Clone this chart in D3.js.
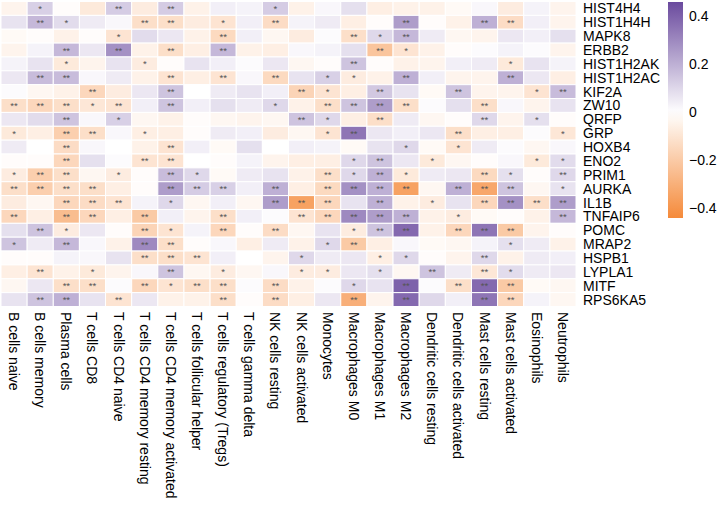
<!DOCTYPE html>
<html><head><meta charset="utf-8">
<script src="https://cdn.jsdelivr.net/npm/d3@7"></script>
<style>body{margin:0;background:#fff}svg{display:block}text{font-family:"Liberation Sans",Arial,sans-serif}</style>
</head><body><svg id="c" width="719" height="506"></svg>
<script>
const genes = ["HIST4H4","HIST1H4H","MAPK8","ERBB2","HIST1H2AK","HIST1H2AC","KIF2A","ZW10","QRFP","GRP","HOXB4","ENO2","PRIM1","AURKA","IL1B","TNFAIP6","POMC","MRAP2","HSPB1","LYPLA1","MITF","RPS6KA5"];
const cells = ["B cells naive","B cells memory","Plasma cells","T cells CD8","T cells CD4 naive","T cells CD4 memory resting","T cells CD4 memory activated","T cells follicular helper","T cells regulatory (Tregs)","T cells gamma delta","NK cells resting","NK cells activated","Monocytes","Macrophages M0","Macrophages M1","Macrophages M2","Dendritic cells resting","Dendritic cells activated","Mast cells resting","Mast cells activated","Eosinophils","Neutrophils"];
const values = [
[-0.04,0.12,-0.01,-0.08,0.13,-0.07,0.13,-0.05,0.04,0.03,0.13,-0.05,0.02,0.08,-0.06,-0.05,-0.05,-0.02,0.02,-0.07,0.03,-0.04],
[0.07,0.18,0.09,0.05,0.02,-0.12,-0.12,-0.07,-0.1,0.04,-0.13,0.03,0.05,-0.06,-0.01,0.25,-0.01,-0.05,0.2,-0.13,0.04,-0.04],
[-0.02,-0.01,-0.05,-0.01,-0.1,0.09,0.06,-0.05,-0.14,0.04,-0.03,-0.07,0.01,-0.12,0.1,0.18,0.05,-0.03,-0.04,0.06,0.04,0.08],
[-0.04,0.03,0.18,0.06,0.28,-0.05,-0.12,-0.06,0.18,-0.05,-0.06,0.02,0.03,0.08,-0.22,-0.1,-0.05,-0.01,0.01,0.03,0.01,-0.04],
[0.03,0.07,-0.08,-0.04,0.07,-0.07,-0.01,0.07,0.04,0.01,0.06,-0.03,-0.01,0.15,-0.01,-0.05,-0.04,0.04,0.05,-0.08,0.07,0.03],
[0.06,0.17,0.17,0.02,0.05,-0.05,-0.1,-0.06,-0.1,0.02,-0.14,0.07,0.12,-0.07,-0.05,0.2,0.04,-0.04,-0.04,0.2,0.06,-0.06],
[0.01,-0.03,-0.05,-0.15,-0.07,0.06,0.15,0.0,0.05,0.07,0.04,-0.16,-0.1,-0.06,0.14,0.07,-0.02,0.15,-0.04,-0.04,-0.1,0.17],
[-0.12,-0.15,-0.12,-0.09,-0.1,0.04,0.15,0.04,0.08,0.05,0.1,-0.05,-0.12,0.15,0.25,-0.12,0.01,0.08,-0.12,0.02,-0.04,0.07],
[0.06,0.09,0.15,0.02,0.12,-0.03,-0.05,-0.01,-0.03,-0.04,-0.03,0.15,0.1,-0.06,-0.12,0.05,-0.03,-0.01,0.1,-0.04,0.08,-0.01],
[-0.08,-0.06,-0.18,-0.12,0.02,-0.06,-0.06,-0.01,0.05,0.04,-0.07,-0.03,-0.1,0.35,0.06,0.04,0.06,-0.12,-0.06,-0.06,0.01,-0.09],
[0.05,0.0,-0.13,0.02,0.0,-0.05,-0.1,0.04,-0.02,0.08,0.0,0.04,0.03,-0.02,0.07,0.1,-0.02,-0.1,0.05,0.01,-0.03,0.02],
[-0.01,-0.01,-0.15,0.08,0.01,-0.1,-0.1,0.0,-0.01,0.03,-0.04,-0.06,-0.06,0.1,0.15,0.06,-0.08,-0.03,-0.01,0.02,-0.08,0.09],
[-0.07,-0.18,-0.12,-0.03,-0.07,-0.01,0.17,0.1,-0.02,0.05,0.07,-0.05,-0.12,0.1,0.2,-0.08,0.05,0.06,-0.14,0.08,-0.01,0.1],
[-0.12,-0.18,-0.12,-0.12,-0.06,-0.01,0.25,0.13,0.12,0.04,0.2,-0.06,-0.14,0.28,0.2,-0.35,-0.03,0.2,-0.33,0.15,-0.03,0.07],
[-0.07,-0.03,-0.15,-0.13,-0.1,0.03,0.1,-0.03,0.04,-0.03,0.25,-0.35,-0.15,0.07,0.2,-0.05,-0.07,0.07,-0.15,0.28,-0.12,0.25],
[-0.15,-0.06,-0.25,-0.15,-0.06,-0.2,0.04,-0.04,-0.12,0.04,0.01,-0.1,-0.15,0.3,0.25,0.2,-0.05,-0.07,-0.02,-0.01,-0.05,0.18],
[0.08,0.15,-0.07,0.06,-0.01,-0.16,-0.1,0.03,-0.15,-0.01,-0.13,-0.03,0.07,-0.07,0.15,0.38,-0.05,-0.15,0.35,-0.2,-0.04,-0.01],
[0.15,0.05,0.18,0.02,-0.05,0.3,-0.12,-0.01,0.02,-0.06,0.05,-0.05,0.1,-0.2,-0.06,0.02,-0.02,-0.03,0.03,0.08,0.05,-0.05],
[-0.01,-0.01,0.03,0.02,0.07,-0.12,-0.12,-0.1,0.04,0.0,-0.04,0.1,0.05,0.06,-0.06,0.1,-0.01,-0.04,0.1,-0.05,0.05,0.04],
[-0.06,-0.1,-0.05,-0.08,-0.04,0.02,0.15,-0.03,-0.07,-0.03,0.02,-0.07,-0.07,0.06,0.08,-0.03,0.15,0.05,-0.09,0.09,0.05,0.06],
[-0.03,0.06,-0.12,-0.12,0.01,-0.15,-0.1,-0.12,-0.12,0.01,-0.13,-0.05,0.01,0.1,0.07,0.4,0.01,-0.12,0.38,-0.2,-0.02,-0.03],
[0.07,0.15,0.2,0.07,-0.1,0.06,-0.05,-0.05,-0.12,-0.01,-0.13,-0.06,0.06,-0.3,-0.04,0.38,0.1,0.04,0.35,-0.15,0.03,-0.03]
];
// significance level per cell: 0 none, 1 "*", 2 "**"
const signif = [
[0,1,0,0,2,0,2,0,0,0,1,0,0,0,0,0,0,0,0,0,0,0],
[0,2,1,0,0,2,2,0,1,0,2,0,0,0,0,2,0,0,2,2,0,0],
[0,0,0,0,1,0,0,0,2,0,0,0,0,2,1,2,0,0,0,0,0,0],
[0,0,2,0,2,0,2,0,2,0,0,0,0,0,2,1,0,0,0,0,0,0],
[0,0,1,0,0,1,0,0,0,0,0,0,0,2,0,0,0,0,0,1,0,0],
[0,2,2,0,0,0,2,0,2,0,2,0,1,1,0,2,0,0,0,2,0,0],
[0,0,0,2,0,0,2,0,0,0,0,2,1,0,2,0,0,2,0,0,1,2],
[2,2,2,1,2,0,2,0,0,0,1,0,2,2,2,2,0,0,2,0,0,0],
[0,0,2,0,1,0,0,0,0,0,0,2,1,0,2,0,0,0,2,0,1,0],
[1,0,2,2,0,1,0,0,0,0,0,0,1,2,0,0,0,2,0,0,0,1],
[0,0,2,0,0,0,2,0,0,0,0,0,0,0,0,1,0,1,0,0,0,0],
[0,0,2,0,0,2,2,0,0,0,0,0,0,1,2,0,1,0,0,0,1,1],
[1,2,2,0,1,0,2,1,0,0,0,0,2,1,2,1,0,0,2,1,0,2],
[2,2,2,2,0,0,2,2,2,0,2,0,2,2,2,2,0,2,2,2,0,1],
[0,0,2,2,2,0,1,0,0,0,2,2,2,0,2,0,1,0,2,2,2,2],
[2,0,2,2,0,2,0,0,2,0,0,2,2,2,2,2,0,1,0,0,0,2],
[0,2,1,0,0,2,1,0,2,0,2,0,0,1,2,2,0,2,2,2,0,0],
[1,0,2,0,0,2,2,0,0,0,0,0,1,2,0,0,0,0,0,1,0,0],
[0,0,0,0,0,2,2,2,0,0,0,1,0,0,1,1,0,0,2,0,0,0],
[0,2,0,1,0,0,2,0,1,0,0,1,1,0,1,0,2,0,2,1,0,0],
[0,0,2,2,0,2,1,2,2,0,2,0,0,1,0,2,0,2,2,2,0,0],
[0,2,2,0,2,0,0,0,2,0,2,0,0,2,0,2,0,0,2,2,0,0]
];
const legendTicks = [0.4, 0.2, 0, -0.2, -0.4];
const colorDomain = [-0.44, 0, 0.46];

const svg = d3.select("#c");
const x = d3.scaleBand().domain(cells).range([1, 576]);
const y = d3.scaleBand().domain(genes).range([1.5, 306.5]);
const color = d3.scaleLinear().domain(colorDomain).range(["#F58A3A", "#FFFFFF", "#6A4A9E"]);

const data = [];
genes.forEach((g, i) => cells.forEach((c, j) => data.push({g, c, v: values[i][j], s: signif[i][j]})));

svg.append("g").selectAll("rect").data(data).join("rect")
  .attr("x", d => x(d.c)).attr("y", d => y(d.g))
  .attr("width", x.bandwidth()).attr("height", y.bandwidth())
  .attr("fill", d => color(d.v)).attr("stroke", "#fff").attr("stroke-width", 1);

svg.append("g").selectAll("text").data(data.filter(d => d.s > 0)).join("text")
  .attr("x", d => x(d.c) + x.bandwidth() / 2).attr("y", d => y(d.g) + y.bandwidth() / 2 + 3.5)
  .attr("text-anchor", "middle").attr("font-size", 9.5).attr("fill", "#555")
  .text(d => d.s === 2 ? "**" : "*");

// row labels
svg.append("g").selectAll("text").data(genes).join("text")
  .attr("x", 583).attr("y", d => y(d) + y.bandwidth() / 2)
  .attr("dominant-baseline", "central").attr("font-size", 14).attr("fill", "#000")
  .text(d => d);

// column labels
svg.append("g").selectAll("text").data(cells).join("text")
  .attr("transform", d => `translate(${x(d) + x.bandwidth() / 2},312) rotate(90)`)
  .attr("dominant-baseline", "central").attr("font-size", 14).attr("fill", "#000")
  .text(d => d);

// colour legend
const ly = d3.scaleLinear().domain([colorDomain[2], colorDomain[0]]).range([2, 218]);
const defs = svg.append("defs");
const grad = defs.append("linearGradient").attr("id", "lg").attr("x1", 0).attr("x2", 0).attr("y1", 0).attr("y2", 1);
d3.range(0, 1.0001, 0.05).forEach(t => {
  const v = ly.invert(2 + t * 216);
  grad.append("stop").attr("offset", t).attr("stop-color", color(v));
});
svg.append("rect").attr("x", 668).attr("y", ly.range()[0]).attr("width", 15)
  .attr("height", ly.range()[1] - ly.range()[0]).attr("fill", "url(#lg)");
svg.append("g").selectAll("text").data(legendTicks).join("text")
  .attr("x", 689).attr("y", d => ly(d)).attr("dominant-baseline", "central")
  .attr("font-size", 14).attr("fill", "#000")
  .text(d => d3.format(".1f")(d).replace("-", "\u2212").replace(/^0\.0$/, "0").replace(/^\u22120\.0$/, "0"));
</script></body></html>
